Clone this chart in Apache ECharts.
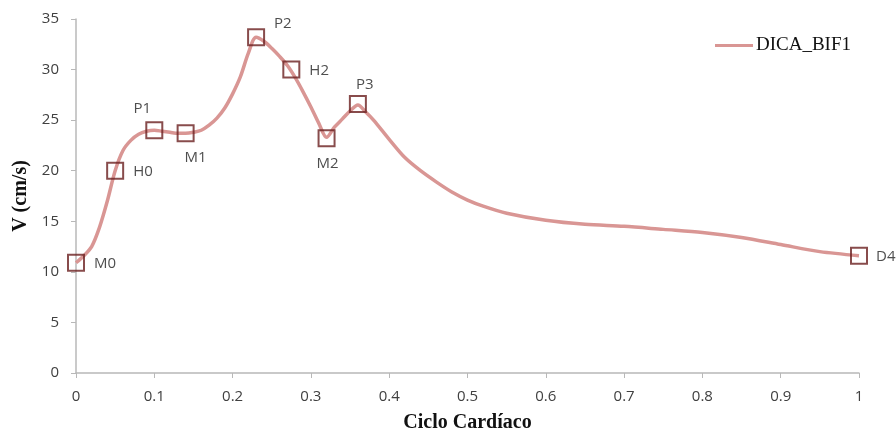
<!DOCTYPE html>
<html>
<head>
<meta charset="utf-8">
<script src="https://cdn.jsdelivr.net/npm/echarts@6/dist/echarts.min.js"></script>
<style>
  html, body { margin: 0; padding: 0; background: #fff; }
  #main { width: 896px; height: 432px; }
</style>
</head>
<body>
<div id="main"></div>
<script>
// curve samples
const cycle = [0, 0.01, 0.02, 0.03, 0.04, 0.05, 0.06, 0.07, 0.08, 0.09, 0.10, 0.11, 0.12, 0.13, 0.14,
  0.15, 0.16, 0.17, 0.18, 0.19, 0.20, 0.21, 0.22, 0.23, 0.24, 0.25, 0.26, 0.27, 0.28, 0.29, 0.30,
  0.31, 0.32, 0.33, 0.34, 0.35, 0.36, 0.37, 0.38, 0.40, 0.42, 0.44, 0.46, 0.48, 0.50, 0.52, 0.55,
  0.60, 0.65, 0.70, 0.75, 0.80, 0.85, 0.90, 0.95, 1.0];
const velocity = [10.9, 11.6, 12.5, 14.4, 17.0, 20.0, 22.0, 23.0, 23.6, 23.9, 24.0, 23.9, 23.8, 23.7, 23.7,
  23.8, 24.0, 24.5, 25.2, 26.2, 27.6, 29.3, 31.6, 33.2, 32.8, 32.1, 31.3, 30.4, 29.2, 27.8, 26.3,
  24.7, 23.3, 24.3, 25.1, 25.9, 26.5, 25.8, 25.0, 23.1, 21.3, 20.0, 18.9, 17.9, 17.1, 16.5, 15.8,
  15.1, 14.7, 14.5, 14.2, 13.9, 13.4, 12.7, 12.0, 11.6];

// marked points
const pointNames = ["M0", "H0", "P1", "M1", "P2", "H2", "M2", "P3", "D4"];
const pointX = [0, 0.05, 0.10, 0.14, 0.23, 0.275, 0.32, 0.36, 1.0];
const pointY = [10.9, 20.0, 24.0, 23.7, 33.2, 30.0, 23.2, 26.6, 11.6];

// where each label sits relative to its marker
const labelPos = {
  M0: { position: "right", offset: [4, 1] },
  H0: { position: "right", offset: [4, 1] },
  P1: { position: "top", offset: [-12, 0] },
  M1: { position: "bottom", offset: [10, 3] },
  P2: { position: "right", offset: [4, -13] },
  H2: { position: "right", offset: [4, 1] },
  M2: { position: "bottom", offset: [1, 4] },
  P3: { position: "top", offset: [7, 2] },
  D4: { position: "right", offset: [3, 1] }
};

const chart = echarts.init(document.getElementById("main"));

const tickFont = { fontFamily: "Open Sans", fontSize: 15, color: "#404040" };
const titleFont = { fontFamily: "Liberation Serif", fontWeight: "bold", fontSize: 20, color: "#111" };

chart.setOption({
  animation: false,
  grid: { left: 76, right: 37, top: 19, bottom: 59, outerBoundsMode: "none", containLabel: false },
  legend: {
    data: ["DICA_BIF1"],
    left: 710,
    top: 31,
    itemWidth: 38,
    itemHeight: 3,
    itemGap: 4,
    icon: "rect",
    textStyle: { fontFamily: "Liberation Serif", fontSize: 19, color: "#111", padding: [0, 0, 0, -2] }
  },
  xAxis: {
    type: "value",
    min: 0,
    max: 1,
    interval: 0.1,
    name: "Ciclo Cardíaco",
    nameLocation: "middle",
    nameGap: 40,
    nameTextStyle: titleFont,
    axisLine: { lineStyle: { color: "#b8b8b8", width: 1.5 } },
    axisTick: { inside: false, length: 5, lineStyle: { color: "#b8b8b8" } },
    axisLabel: Object.assign({ margin: 16 }, tickFont),
    splitLine: { show: false }
  },
  yAxis: {
    type: "value",
    min: 0,
    max: 35,
    interval: 5,
    name: "V (cm/s)",
    nameLocation: "middle",
    nameGap: 45,
    nameRotate: 90,
    nameTextStyle: titleFont,
    axisLine: { show: true, lineStyle: { color: "#b8b8b8", width: 1.5 } },
    axisTick: { show: true, length: 5, lineStyle: { color: "#b8b8b8" } },
    axisLabel: Object.assign({ margin: 17 }, tickFont),
    splitLine: { show: false }
  },
  series: [
    {
      name: "DICA_BIF1",
      type: "line",
      smooth: 0.3,
      showSymbol: false,
      data: cycle.map((x, i) => [x, velocity[i]]),
      lineStyle: { color: "#d99694", width: 3.5 },
      itemStyle: { color: "#d99694" },
      z: 2
    },
    {
      name: "points",
      type: "scatter",
      symbol: "rect",
      symbolSize: 16,
      data: pointNames.map((n, i) => ({
        value: [pointX[i], pointY[i]],
        name: n,
        label: labelPos[n]
      })),
      itemStyle: { color: "rgba(0,0,0,0)", borderColor: "#6a1f1f", borderWidth: 2 },
      label: {
        show: true,
        formatter: (p) => p.name,
        fontFamily: "Open Sans",
        fontSize: 15,
        color: "#222"
      },
      z: 3
    }
  ]
});
</script>
</body>
</html>
